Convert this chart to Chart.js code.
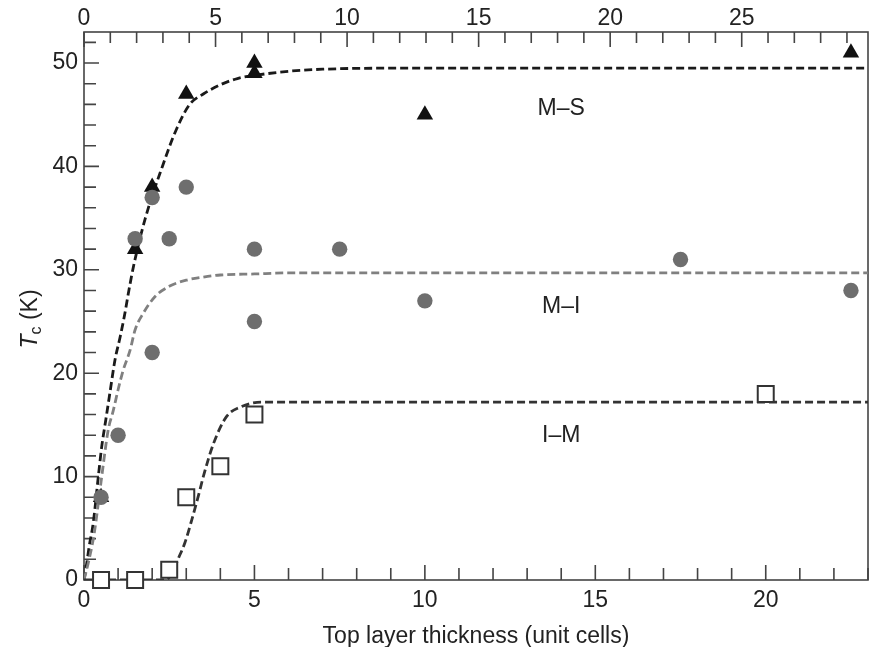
<!DOCTYPE html>
<html>
<head>
<meta charset="utf-8">
<script src="https://cdn.jsdelivr.net/npm/chart.js@4/dist/chart.umd.min.js"></script>
<style>
  html, body { margin: 0; padding: 0; background: #fff; }
  #wrap { width: 871px; height: 647px; position: relative; }
</style>
</head>
<body>
<div id="wrap"><canvas id="tcChart"></canvas></div>
<script>
// Measured points (thickness in unit cells, Tc in K)
const msX = [0.5, 1.5, 2, 3, 5, 5, 10, 22.5];            // M-S triangles
const msY = [8, 32, 38, 47, 50, 49, 45, 51];
const miX = [0.5, 1, 1.5, 2, 2, 2.5, 3, 5, 5, 7.5, 10, 17.5, 22.5]; // M-I circles
const miY = [8, 14, 33, 37, 22, 33, 38, 32, 25, 32, 27, 31, 28];
const imX = [0.5, 1.5, 2.5, 3, 4, 5, 20];                 // I-M squares
const imY = [0, 0, 1, 8, 11, 16, 18];

// Dashed guide curves
const msCurveX = [0, 0.08, 0.15, 0.27, 0.42, 0.52, 0.64, 0.76, 0.91, 1.06, 1.2, 1.3, 1.45, 1.8, 2.3, 2.7, 3.1, 3.5, 4, 4.5, 5, 6, 7, 9, 23];
const msCurveY = [0, 1.6, 3.2, 5.5, 10, 12.9, 15.5, 18.1, 21.3, 23.5, 25.8, 27.7, 30.3, 35, 40, 43.5, 46, 47, 47.9, 48.5, 48.8, 49.2, 49.4, 49.5, 49.5];
const miCurveX = [0, 0.15, 0.3, 0.5, 0.71, 0.86, 1.0, 1.15, 1.35, 1.5, 1.74, 2.08, 2.5, 3.0, 3.5, 4, 5, 6, 23];
const miCurveY = [0, 2, 4.5, 9.5, 14.5, 16.4, 18.4, 20.3, 22.2, 24.2, 25.8, 27.4, 28.4, 29, 29.3, 29.5, 29.6, 29.7, 29.7];
const imCurveX = [0, 2.4, 2.6, 2.77, 2.96, 3.16, 3.4, 3.5, 3.8, 4.18, 4.57, 5.2, 6, 23];
const imCurveY = [0, 0, 0.8, 2.1, 3.6, 5.8, 8.7, 10, 13.2, 15.8, 16.7, 17.2, 17.2, 17.2];

// Axis ranges
const xMax = 23;
const xTopMax = 29.8;
const yMax = 53;

// Region labels
const regionText = ['M\u2013S', 'M\u2013I', 'I\u2013M'];
const regionX = [14, 14, 14];
const regionY = [45.6, 26.4, 14];

const FONT = '"Liberation Sans", Arial, Helvetica, sans-serif';
const toXY = (xs, ys) => xs.map((x, i) => ({ x: x, y: ys[i] }));

const curve = (data, color, width) => ({
    type: 'line',
    data: data,
    showLine: true,
    borderColor: color,
    borderWidth: width,
    borderDash: [8, 4],
    pointRadius: 0,
    cubicInterpolationMode: 'monotone',
    fill: false
});

// keep the plot box where the figure has it
const fixHoriz = h => s => { s.height = h; s.paddingLeft = 0; s.paddingRight = 0; };

// Inward ticks, frame, region labels and y title
const framePlugin = {
    id: 'frame',
    beforeDatasetsDraw(chart) {
        const { ctx, chartArea: a, scales } = chart;
        ctx.save();
        ctx.strokeStyle = '#444';
        ctx.lineWidth = 1.6;
        ctx.strokeRect(a.left, a.top, a.right - a.left, a.bottom - a.top);
        ctx.beginPath();
        scales.y.ticks.forEach(t => {
            const p = scales.y.getPixelForValue(t.value);
            const len = t.value % 10 === 0 ? 15 : 12;
            ctx.moveTo(a.left, p);
            ctx.lineTo(a.left + len, p);
        });
        scales.x.ticks.forEach(t => {
            const p = scales.x.getPixelForValue(t.value);
            const len = t.value % 5 === 0 ? 15 : 12;
            ctx.moveTo(p, a.bottom);
            ctx.lineTo(p, a.bottom - len);
        });
        scales.xTop.ticks.forEach(t => {
            const p = scales.xTop.getPixelForValue(t.value);
            const len = t.value % 5 === 0 ? 15 : 11;
            ctx.moveTo(p, a.top);
            ctx.lineTo(p, a.top + len);
        });
        ctx.stroke();
        ctx.restore();
    },
    afterDraw(chart) {
        const { ctx, scales } = chart;
        ctx.save();
        ctx.fillStyle = '#222';
        ctx.font = '23px ' + FONT;
        ctx.textAlign = 'center';
        ctx.textBaseline = 'middle';
        regionText.forEach((t, i) => {
            ctx.fillText(t, scales.x.getPixelForValue(regionX[i]), scales.y.getPixelForValue(regionY[i]));
        });

        // y title: T_c (K)
        ctx.translate(29, 319);
        ctx.rotate(-Math.PI / 2);
        ctx.textAlign = 'left';
        ctx.textBaseline = 'alphabetic';
        const fT = 'italic 23px ' + FONT, fC = '16px ' + FONT, fK = '23px ' + FONT;
        ctx.font = fT; const wT = ctx.measureText('T').width;
        ctx.font = fC; const wC = ctx.measureText('c').width;
        ctx.font = fK; const wK = ctx.measureText(' (K)').width;
        let x0 = -(wT + wC + wK) / 2;
        const base = 8;
        ctx.font = fT; ctx.fillText('T', x0, base); x0 += wT;
        ctx.font = fC; ctx.fillText('c', x0, base + 4); x0 += wC;
        ctx.font = fK; ctx.fillText(' (K)', x0, base);
        ctx.restore();
    }
};

const ctx = document.getElementById('tcChart').getContext('2d');
new Chart(ctx, {
    type: 'scatter',
    data: {
        datasets: [
            {
                data: toXY(imX, imY),
                pointStyle: 'rect',
                pointRadius: 11.3,
                pointBackgroundColor: '#fff',
                pointBorderColor: '#333',
                pointBorderWidth: 2,
                clip: false
            },
            {
                data: toXY(miX, miY),
                pointStyle: 'circle',
                pointRadius: 7.7,
                pointBackgroundColor: '#6e6e6e',
                pointBorderColor: '#6e6e6e',
                pointBorderWidth: 0,
                clip: false
            },
            {
                data: toXY(msX, msY),
                pointStyle: 'triangle',
                pointRadius: 9.5,
                pointBackgroundColor: '#111',
                pointBorderColor: '#111',
                pointBorderWidth: 0,
                clip: false
            },
            curve(toXY(imCurveX, imCurveY), '#333', 2.8),
            curve(toXY(miCurveX, miCurveY), '#808080', 2.8),
            curve(toXY(msCurveX, msCurveY), '#1a1a1a', 2.8)
        ]
    },
    options: {
        responsive: true,
        maintainAspectRatio: false,
        animation: false,
        events: [],
        layout: { autoPadding: false, padding: { left: 0, right: 3, top: 0, bottom: 0 } },
        plugins: {
            legend: { display: false },
            tooltip: { enabled: false }
        },
        scales: {
            x: {
                type: 'linear',
                position: 'bottom',
                min: 0,
                max: xMax,
                grid: { display: false, drawTicks: false },
                border: { display: false },
                ticks: {
                    stepSize: 1,
                    autoSkip: false,
                    maxRotation: 0,
                    includeBounds: false,
                    padding: 7,
                    color: '#222',
                    font: { family: FONT, size: 23 },
                    callback: v => (v % 5 === 0 ? String(v) : '')
                },
                title: {
                    display: true,
                    text: 'Top layer thickness (unit cells)',
                    color: '#222',
                    font: { family: FONT, size: 23, lineHeight: 0.9 },
                    padding: { top: 0, bottom: 0 }
                },
                afterFit: fixHoriz(67)
            },
            xTop: {
                type: 'linear',
                position: 'top',
                min: 0,
                max: xTopMax,
                grid: { display: false, drawTicks: false },
                border: { display: false },
                ticks: {
                    stepSize: 1,
                    autoSkip: false,
                    maxRotation: 0,
                    includeBounds: false,
                    padding: 0,
                    color: '#222',
                    font: { family: FONT, size: 23 },
                    callback: v => (v % 5 === 0 ? String(v) : '')
                },
                afterFit: fixHoriz(32)
            },
            y: {
                type: 'linear',
                min: 0,
                max: yMax,
                grid: { display: false, drawTicks: false },
                border: { display: false },
                ticks: {
                    stepSize: 2,
                    autoSkip: false,
                    includeBounds: false,
                    padding: 6,
                    color: '#222',
                    font: { family: FONT, size: 23 },
                    callback: v => (v % 10 === 0 ? String(v) : '')
                },
                afterFit: s => { s.width = 84; s.paddingTop = 0; s.paddingBottom = 0; }
            }
        }
    },
    plugins: [framePlugin]
});
</script>
</body>
</html>
